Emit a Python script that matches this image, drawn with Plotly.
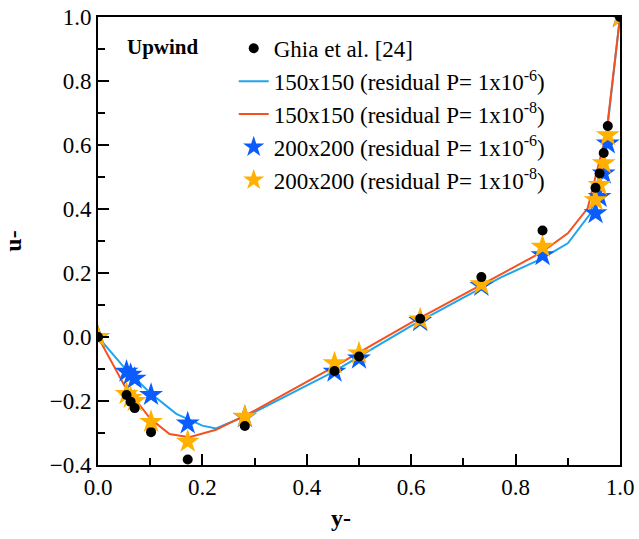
import plotly.graph_objects as go

# Ghia et al. reference data
ghia_y = [0.0, 0.0547, 0.0625, 0.0703, 0.1016, 0.1719, 0.2813, 0.4531, 0.5, 0.6172, 0.7344, 0.8516, 0.9531, 0.9609, 0.9688, 0.9766, 1.0]
ghia_u = [0.0, -0.18109, -0.20196, -0.22220, -0.29730, -0.38289, -0.27805, -0.10648, -0.06080, 0.05702, 0.18719, 0.33304, 0.46604, 0.51117, 0.57492, 0.65928, 1.0]

# 150x150 lines
l6_y = [0.0, 0.05, 0.1, 0.15, 0.2, 0.226, 0.3, 0.45, 0.6, 0.77, 0.85, 0.9, 0.944, 0.972, 1.0]
l6_u = [0.0, -0.095, -0.175, -0.24, -0.277, -0.286, -0.235, -0.11, 0.035, 0.185, 0.245, 0.293, 0.387, 0.60, 1.0]
l8_y = [0.0, 0.05, 0.1, 0.137, 0.175, 0.226, 0.3, 0.45, 0.6, 0.77, 0.85, 0.9, 0.938, 0.974, 1.0]
l8_u = [0.0, -0.15, -0.255, -0.303, -0.313, -0.29, -0.23, -0.095, 0.045, 0.194, 0.265, 0.324, 0.402, 0.637, 1.0]

# 200x200 stars
s_y = [0.0, 0.0547, 0.0625, 0.0703, 0.1016, 0.1719, 0.2813, 0.4531, 0.5, 0.6172, 0.7344, 0.8516, 0.9531, 0.9609, 0.9688, 0.9766, 1.0]
s6_u = [0.0, -0.108, -0.118, -0.13, -0.181, -0.27, -0.25, -0.108, -0.067, 0.05, 0.16, 0.256, 0.387, 0.438, 0.511, 0.605, 1.0]
s8_u = [0.0, -0.178, -0.19, -0.20, -0.265, -0.327, -0.249, -0.082, -0.051, 0.055, 0.165, 0.282, 0.428, 0.475, 0.543, 0.631, 1.0]

FONT = "Times New Roman, Liberation Serif, DejaVu Serif, serif"

fig = go.Figure()
fig.add_trace(go.Scatter(x=l6_y, y=l6_u, mode="lines", line=dict(color="#1ea5ec", width=2),
                         name="150x150 (residual P= 1x10<sup>-6</sup>)", legendrank=2))
fig.add_trace(go.Scatter(x=l8_y, y=l8_u, mode="lines", line=dict(color="#f4511e", width=2),
                         name="150x150 (residual P= 1x10<sup>-8</sup>)", legendrank=3))
fig.add_trace(go.Scatter(x=s_y, y=s6_u, mode="markers", marker=dict(symbol="star", size=18, color="#0a5cff"),
                         name="200x200 (residual P= 1x10<sup>-6</sup>)", legendrank=4))
fig.add_trace(go.Scatter(x=s_y, y=s8_u, mode="markers", marker=dict(symbol="star", size=18, color="#ffb000"),
                         name="200x200 (residual P= 1x10<sup>-8</sup>)", legendrank=5))
fig.add_trace(go.Scatter(x=ghia_y, y=ghia_u, mode="markers", marker=dict(symbol="circle", size=10, color="black"),
                         name="Ghia et al. [24]", legendrank=1))

axis_common = dict(showline=True, linecolor="black", linewidth=2, mirror=True,
                   ticks="inside", ticklen=11, tickwidth=2, tickcolor="black",
                   showgrid=False, zeroline=False, automargin=False,
                   tickfont=dict(family=FONT, size=23, color="black"),
                   minor=dict(ticks="inside", ticklen=7, tickwidth=2, tickcolor="black", dtick=0.1))

fig.update_xaxes(range=[0, 1], tickmode="array", tickvals=[0, 0.2, 0.4, 0.6, 0.8, 1.0],
                 ticktext=["0.0", "0.2", "0.4", "0.6", "0.8", "1.0"],
                 **axis_common)
fig.update_yaxes(range=[-0.4, 1.0], tickmode="array", tickvals=[-0.4, -0.2, 0, 0.2, 0.4, 0.6, 0.8, 1.0],
                 ticktext=["\u22120.4", "\u22120.2", "0.0", "0.2", "0.4", "0.6", "0.8", "1.0"],
                 title=dict(text="<b>u-</b>", font=dict(family=FONT, size=24, color="black"), standoff=22),
                 **axis_common)

fig.add_annotation(text="<b>y-</b>", xref="paper", yref="paper", x=0.465, y=-0.118,
                   xanchor="center", yanchor="middle", showarrow=False,
                   font=dict(family=FONT, size=24, color="black"))
fig.add_annotation(text="<b>Upwind</b>", xref="paper", yref="paper", x=0.051, y=0.932,
                   xanchor="left", yanchor="middle", showarrow=False,
                   font=dict(family=FONT, size=21, color="black"))

fig.update_layout(
    width=639, height=539,
    margin=dict(l=98, r=19, t=17, b=74),
    paper_bgcolor="white", plot_bgcolor="white",
    legend=dict(x=0.26, y=0.978, xanchor="left", yanchor="top", bgcolor="rgba(0,0,0,0)",
                font=dict(family=FONT, size=23, color="black"), itemwidth=30, tracegroupgap=0),
)

fig.write_html("out.html")
